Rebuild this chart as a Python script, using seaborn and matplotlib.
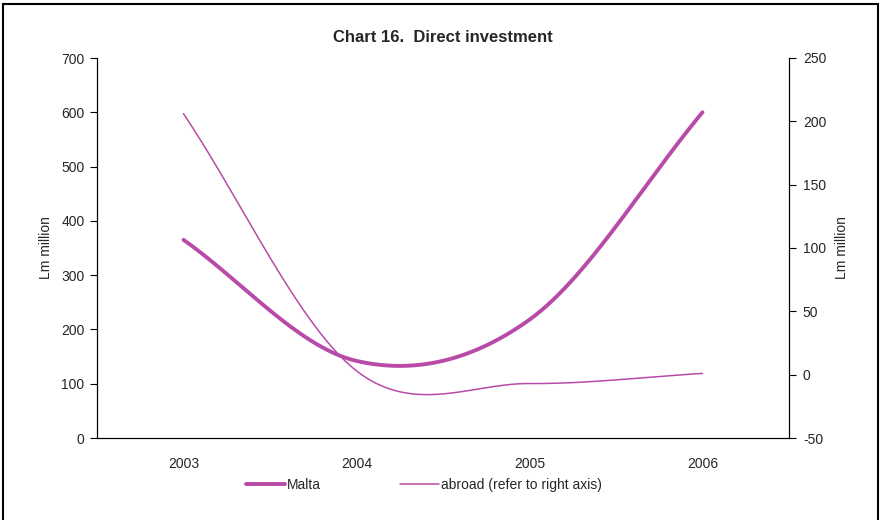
import numpy as np
import pandas as pd
import matplotlib
matplotlib.use("Agg")
import matplotlib.pyplot as plt
import seaborn as sns
from matplotlib.patches import Rectangle
from matplotlib.lines import Line2D

years = ["2003", "2004", "2005", "2006"]
malta = [365, 142, 218, 600]
abroad = [206, 3, -7, 1]

sns.set_style("white")
plt.rcParams["font.family"] = ["Liberation Sans", "DejaVu Sans"]
plt.rcParams["axes.unicode_minus"] = False

COLOR = "#B84BA8"


def smooth(vals, n=60):
    # Excel-style smoothed line (cubic Hermite through the points)
    p = np.asarray(vals, dtype=float)
    last = len(p) - 1
    tang = np.empty_like(p)
    for i in range(len(p)):
        if i == 0:
            tang[i] = p[1] - p[0]
        elif i == last:
            tang[i] = p[last] - p[last - 1]
        else:
            tang[i] = (p[i + 1] - p[i - 1]) / 2.0
    xs, ys = [], []
    for i in range(last):
        t = np.linspace(0, 1, n, endpoint=(i == last - 1))
        h00 = 2 * t**3 - 3 * t**2 + 1
        h10 = t**3 - 2 * t**2 + t
        h01 = -2 * t**3 + 3 * t**2
        h11 = t**3 - t**2
        xs.append(i + t)
        ys.append(h00 * p[i] + h10 * tang[i] + h01 * p[i + 1] + h11 * tang[i + 1])
    return np.concatenate(xs), np.concatenate(ys)


fig = plt.figure(figsize=(8.82, 5.2), dpi=100)
ax = fig.add_axes([97 / 882, 1 - 438 / 520, (789 - 97) / 882, (438 - 58) / 520])
ax2 = ax.twinx()

xm, ym = smooth(malta)
xa, ya = smooth(abroad)
sns.lineplot(x=xm, y=ym, ax=ax, color=COLOR, linewidth=2.8, sort=False, estimator=None)
sns.lineplot(x=xa, y=ya, ax=ax2, color=COLOR, linewidth=1.1, sort=False, estimator=None)

ax.set_xlim(-0.5, len(years) - 0.5)
ax.set_ylim(0, 700)
ax2.set_ylim(-50, 250)
ax.set_yticks(range(0, 701, 100))
ax2.set_yticks(range(-50, 251, 50))

ax.set_xticks(np.arange(-0.5, len(years), 1.0))
ax.set_xticklabels([])
ax.set_xticks(range(len(years)), minor=True)
ax.set_xticklabels(years, minor=True)
ax.tick_params(axis="x", which="major", direction="out", length=5, width=0.8, color="black")
ax.tick_params(axis="x", which="minor", length=0, pad=14, labelsize=10)
ax.tick_params(axis="y", direction="out", length=5, width=0.8, color="black", labelsize=10, pad=4, left=True)
ax2.tick_params(axis="y", direction="out", length=5, width=0.8, color="black", labelsize=10, pad=5, right=True)

for a in (ax, ax2):
    a.set_xlabel("")
    a.spines["top"].set_visible(False)
    for s in ("left", "right", "bottom"):
        a.spines[s].set_color("black")
        a.spines[s].set_linewidth(0.8)
    a.grid(False)
    a.set_facecolor("none")

ax.set_ylabel("Lm million", fontsize=10, labelpad=6)
ax2.set_ylabel("Lm million", fontsize=10, rotation=90, labelpad=6)

fig.text(443 / 882, 1 - 38 / 520, "Chart 16.  Direct investment", ha="center", va="center",
         fontsize=12, fontweight="bold")

handles = [Line2D([], [], color=COLOR, linewidth=2.8),
           Line2D([], [], color=COLOR, linewidth=1.1)]
fig.legend(handles, ["Malta", "abroad (refer to right axis)"], loc="center left",
           bbox_to_anchor=(233 / 882, 1 - 485 / 520), ncol=2, frameon=False,
           fontsize=10, handlelength=2.85, handletextpad=0.15, columnspacing=5.65)

fig.patches.append(Rectangle((3 / 882, -0.01), 875 / 882, 1 - 4 / 520 + 0.01,
                             transform=fig.transFigure, fill=False,
                             edgecolor="black", linewidth=1.5))

fig.savefig("out.png", dpi=100)
